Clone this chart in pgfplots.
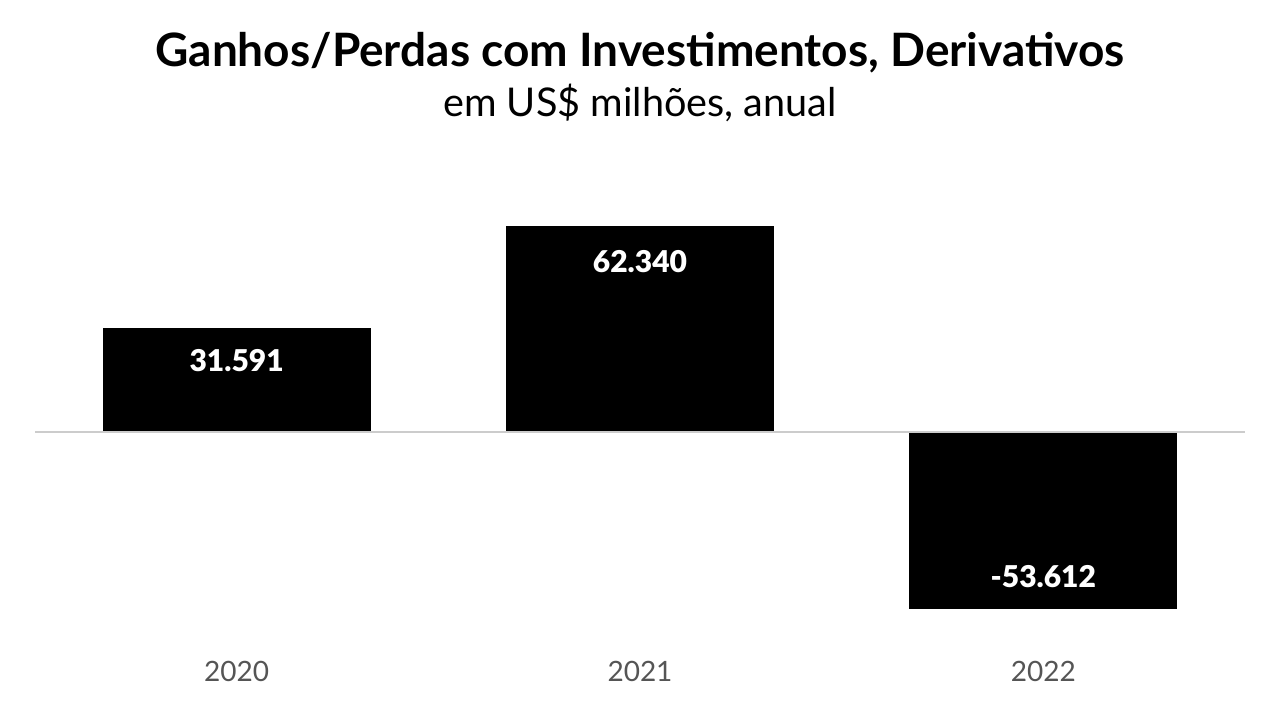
\documentclass[border=0pt]{standalone}
\usepackage{pgfplots}
\pgfplotsset{compat=1.18}
\usepackage{fontspec}
\setmainfont{Lato}
\newfontfamily\latoblack{Lato Black}
\definecolor{ticktxt}{HTML}{555555}
\definecolor{zeroline}{HTML}{CCCCCC}
\begin{document}
\begin{tikzpicture}
\useasboundingbox (-17.5pt,-31.25pt) rectangle (622.5pt,323.25pt);
\begin{axis}[
  at={(0,0)}, anchor=south west,
  scale only axis, width=605pt, height=231pt,
  xmin=-0.5, xmax=2.5, ymin=-65, ymax=75,
  axis line style={draw=none},
  ytick=\empty,
  xtick={0,1,2}, xticklabels={2020,2021,2022},
  major tick length=0pt,
  xticklabel style={font=\fontsize{14pt}{16pt}\selectfont, text=ticktxt, yshift=-4pt},
  /pgf/number format/assume math mode=true,
  /pgf/number format/fixed,
  /pgf/number format/precision=3,
  /pgf/number format/zerofill,
  ybar, bar width=134pt, bar shift=0pt,
  clip=false,
  nodes near coords,
  point meta=y,
  nodes near coords style={font=\fontsize{15pt}{17pt}\latoblack, text=white},
]
\addplot[draw=none, fill=black, nodes near coords style={anchor=center, yshift=-16.5pt}] coordinates {(0,31.591)};
\addplot[draw=none, fill=black, nodes near coords style={anchor=center, yshift=-17.5pt}] coordinates {(1,62.340)};
\addplot[draw=none, fill=black, nodes near coords style={anchor=center, yshift=16pt}] coordinates {(2,-53.612)};
\end{axis}
\begin{axis}[
  at={(0,0)}, anchor=south west,
  scale only axis, width=605pt, height=231pt,
  xmin=-0.5, xmax=2.5, ymin=-65, ymax=75,
  axis lines=none,
]
\addplot[zeroline, line width=1pt] coordinates {(-0.5,0) (2.5,0)};
\end{axis}
\node[font=\fontsize{23pt}{26pt}\selectfont\bfseries] at (302.5pt,296.75pt) {Ganhos/Perdas com Investimentos, Derivativos};
\node[font=\fontsize{19.8pt}{22pt}\selectfont] at (302.5pt,271.75pt) {em US\$ milhões, anual};
\end{tikzpicture}
\end{document}
